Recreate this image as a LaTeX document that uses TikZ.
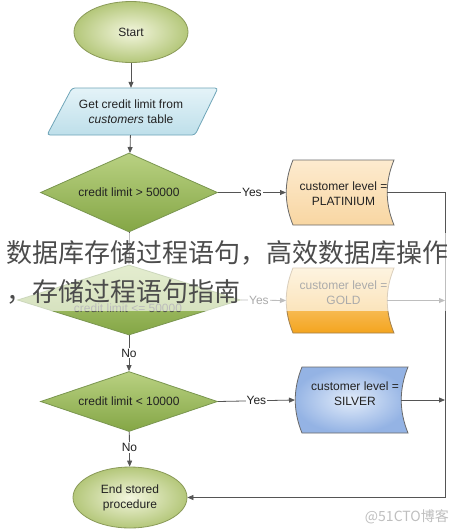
\documentclass[tikz,border=0pt]{standalone}
\usepackage{fontspec}
\setmainfont{Liberation Sans}
\newfontfamily\cjk{Noto Sans CJK SC}
\usetikzlibrary{shapes.geometric,arrows.meta,calc}
\definecolor{txt}{HTML}{222222}
\definecolor{linec}{HTML}{555555}
\definecolor{termb}{HTML}{8A9A58}
\definecolor{termi}{HTML}{F3F6DE}
\definecolor{termo}{HTML}{B4C77A}
\definecolor{decb}{HTML}{7A9650}
\definecolor{dect}{HTML}{B9D182}
\definecolor{decbot}{HTML}{84A645}
\definecolor{parab}{HTML}{6FA5B8}
\definecolor{parat}{HTML}{E4F3F8}
\definecolor{parabot}{HTML}{BEDFEA}
\definecolor{boxb}{HTML}{6A6A6A}
\definecolor{platt}{HTML}{FDEBCF}
\definecolor{platb}{HTML}{F8D6A2}
\definecolor{goldbd}{HTML}{A08050}
\definecolor{goldt}{HTML}{FCE2AE}
\definecolor{goldbot}{HTML}{F4A41E}
\definecolor{silvi}{HTML}{E2ECFA}
\definecolor{silvo}{HTML}{94B3E4}
\newcommand\levelbox[8]{%
  \path[#6] (#2,#4) -- (#3,#4) .. controls ({#3-9},{#4+(#5-#4)/3}) and ({#3-9},{#5-(#5-#4)/3}) .. (#3,#5) -- (#2,#5) .. controls ({#2-9},{#5-(#5-#4)/3}) and ({#2-9},{#4+(#5-#4)/3}) .. (#2,#4) -- cycle;
  \coordinate (#1-w) at ({#2-7},{(#4+#5)/2});
  \coordinate (#1-e) at ({#3-7},{(#4+#5)/2});
  \node[align=center] (#1) at ({(#2+#3)/2},#8) {#7};
}
\begin{document}
\begin{tikzpicture}[x=1pt,y=-1pt,
  every node/.style={font=\fontsize{12}{15}\selectfont, text=txt},
  flow/.style={draw=linec, line width=0.8pt, -{Triangle[length=6pt,width=5pt]}},
  lbl/.style={fill=white, inner sep=1pt},
  term/.style={ellipse, draw=termb, line width=0.8pt, inner color=termi, outer color=termo, minimum width=114, minimum height=61, align=center, inner sep=0pt},
  decision/.style={diamond, draw=decb, line width=0.8pt, top color=dect, bottom color=decbot, inner sep=0pt, aspect=2.2},
  lvlline/.style={draw=boxb, line width=0.8pt}]
\useasboundingbox (0,0) rectangle (453,531);
\fill[white] (0,0) rectangle (453,531);

% start
\node[term] (start) at (131,32) {Start};

% parallelogram
\path[draw=parab, line width=0.8pt, top color=parat, bottom color=parabot, rounded corners=3pt] (72,88) -- (218,88) -- (195,135) -- (47,135) -- cycle;
\node[align=center, minimum width=147, minimum height=47, inner sep=0pt] (para) at (131,111.5) {Get credit limit from\\\textit{customers} table};

% decisions
\node[decision, minimum width=177, minimum height=79] (d1) at (129,192.5) {credit limit > 50000};
\node[decision, minimum width=223, minimum height=70] (d2) at (129,300) {};
\node[text=txt!80] (d2t) at (128,308) {credit limit <= 50000};
\node[decision, minimum width=177, minimum height=60] (d3) at (129,401.5) {credit limit < 10000};

% end
\node[term, minimum height=61] (end) at (130,497.5) {End stored\\procedure};

% level boxes
\levelbox{plat}{293}{394}{160}{225}{lvlline, top color=platt, bottom color=platb}{customer level =\\PLATINIUM}{194}
\levelbox{gold}{293}{394}{268}{333}{draw=goldbd, line width=0.8pt, top color=goldt, bottom color=goldbot}{customer level =\\GOLD}{293}
\levelbox{silv}{302}{408}{367}{433}{lvlline, inner color=silvi, outer color=silvo}{customer level =\\SILVER}{394}

\coordinate (rail) at (445,0);

% connectors
\draw[flow] (start) -- (para);
\draw[flow] (para) -- (d1);
\draw[flow] (d1) -- (d2);
\draw[flow] (d2) -- node[lbl]{No} (d3);
\draw[flow] (d3) -- node[lbl, pos=0.45]{No} (end);
\draw[flow] (d1.east) -- node[lbl]{Yes} (plat-w);
\draw[flow] (d2.east) -- node[lbl, pos=0.4]{Yes} (gold-w);
\draw[flow] (d3.east) -- node[lbl]{Yes} (silv-w);
\draw[flow] (plat-e) -- (plat-e -| rail) |- (end.east);
\draw[flow] (gold-e) -- (gold-e -| rail);
\draw[flow] (silv-e) -- (silv-e -| rail);

% translucent band and overlay title
\fill[white, opacity=0.62] (0,233) rectangle (453,311);
\node[anchor=west, inner sep=0pt, text=black!70, font=\cjk\fontsize{26}{30}\selectfont] (t1) at (6,253) {数据库存储过程语句，高效数据库操作};
\node[anchor=west, inner sep=0pt, text=black!70, font=\cjk\fontsize{26}{30}\selectfont] (t2) at (6,292) {，存储过程语句指南};

% watermark
\node[anchor=east, inner sep=0pt, text=black!25, font=\cjk\fontsize{14}{16}\selectfont] (wm) at (449,517) {@51CTO博客};
\end{tikzpicture}
\end{document}
